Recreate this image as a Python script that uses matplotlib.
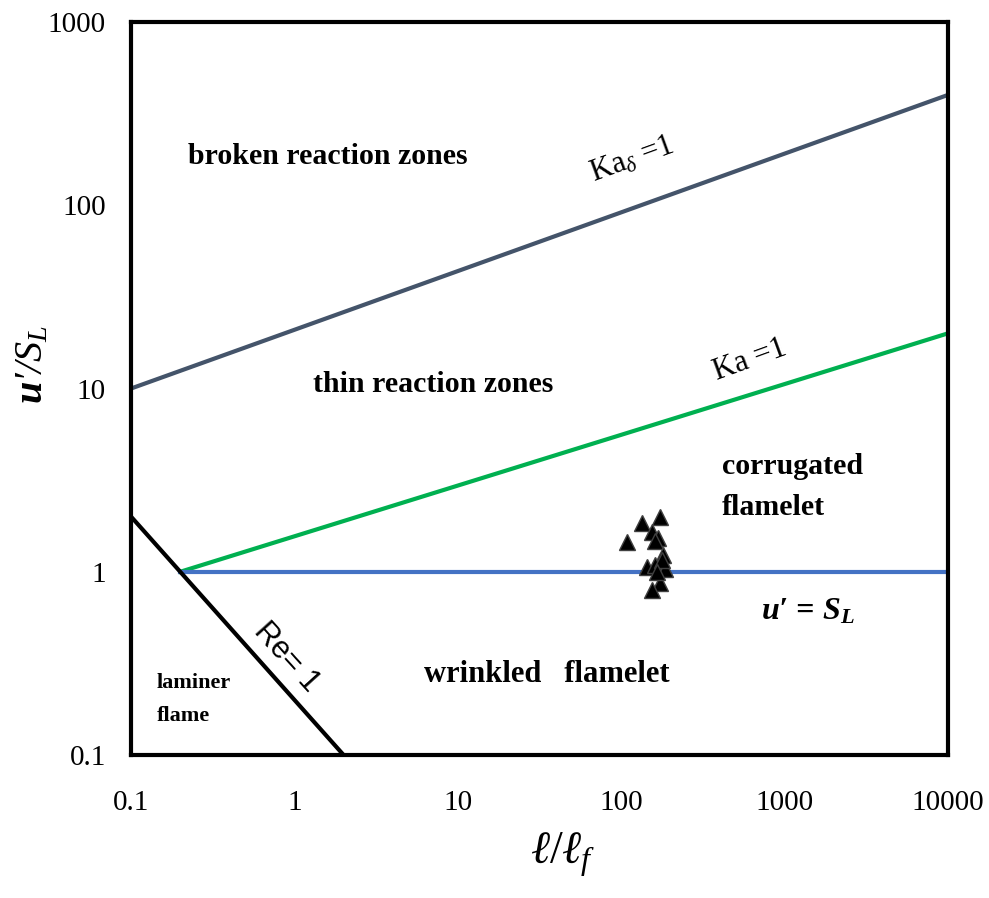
import matplotlib
matplotlib.use("Agg")
import matplotlib.pyplot as plt

plt.rcParams["font.family"] = ["Liberation Serif", "DejaVu Serif"]
plt.rcParams["mathtext.fontset"] = "custom"
plt.rcParams["mathtext.rm"] = "Liberation Serif"
plt.rcParams["mathtext.it"] = "Liberation Serif:italic"
plt.rcParams["mathtext.bf"] = "Liberation Serif:bold"
plt.rcParams["mathtext.bfit"] = "Liberation Serif:bold:italic"

# Regime boundaries (l/lf, u'/SL)
ka_delta_x = [0.1, 10000]
ka_delta_y = [10, 400]
ka_x = [0.2, 10000]
ka_y = [1, 20]
usl_x = [0.2, 10000]
usl_y = [1, 1]
re_x = [0.1, 2]
re_y = [2, 0.1]

# Measured points
pts_x = [173, 134, 108, 154, 168, 161, 180, 144, 161, 185, 178, 173, 154, 166]
pts_y = [2.0, 1.85, 1.46, 1.65, 1.53, 1.48, 1.24, 1.06, 1.09, 1.03, 1.16, 0.87, 0.80, 1.0]

xticks = [0.1, 1, 10, 100, 1000, 10000]
xtick_labels = ["0.1", "1", "10", "100", "1000", "10000"]
yticks = [0.1, 1, 10, 100, 1000]
ytick_labels = ["0.1", "1", "10", "100", "1000"]

fig = plt.figure(figsize=(9.89, 8.98), dpi=100)
ax = fig.add_axes([0.1325, 0.1592, 0.826, 0.8163])

ax.plot(ka_delta_x, ka_delta_y, color="#44546A", lw=3)
ax.plot(ka_x, ka_y, color="#00B050", lw=3)
ax.plot(usl_x, usl_y, color="#4472C4", lw=3)
ax.plot(re_x, re_y, color="black", lw=3)
ax.plot(pts_x, pts_y, ls="none", marker="^", ms=11, mfc="black", mec="#404040", mew=1)

ax.set_xscale("log")
ax.set_yscale("log")
ax.set_xlim(0.1, 10000)
ax.set_ylim(0.1, 1000)
ax.set_xticks(xticks)
ax.set_xticklabels(xtick_labels)
ax.set_yticks(yticks)
ax.set_yticklabels(ytick_labels)
ax.minorticks_off()
ax.tick_params(length=0, labelsize=21)
ax.tick_params(axis="x", pad=25)
ax.tick_params(axis="y", pad=18)
for s in ax.spines.values():
    s.set_linewidth(3)

fig.text(0.569, 0.048, r"$\ell/\ell_f$", fontsize=33, ha="center", va="center")
fig.text(0.033, 0.594, r"$\mathbfit{u}$" + "\u2032/" + r"$S_L$", fontsize=29, ha="center", va="center",
         rotation=90, fontstyle="italic")

bold = dict(fontsize=21.5, fontweight="bold")
ax.text(1.6, 184, "broken reaction zones", ha="center", va="center", **bold)
ax.text(7.1, 10.5, "thin reaction zones", ha="center", va="center", **bold)
ax.text(414, 2.9, "corrugated\nflamelet", ha="left", va="center", linespacing=1.7, **bold)
ax.text(35, 0.274, "wrinkled   flamelet", ha="center", va="center", fontsize=22, fontweight="bold")
ax.text(0.144, 0.2, "laminer\nflame", ha="left", va="center", fontsize=16, fontweight="bold", linespacing=1.85)
ax.text(1390, 0.605, r"$\mathbfit{u}$" + "\u2032 = " + r"$\mathbfit{S}_\mathbfit{L}$", ha="center", va="center",
        fontsize=23, fontweight="bold", fontstyle="italic")
ax.text(0.89, 0.344, "Re= 1", rotation=-48, ha="center", va="center", fontsize=22,
        family=["Liberation Sans", "DejaVu Sans"])
ax.text(116, 177, r"Ka$_\delta$ =1", rotation=20, ha="center", va="center", fontsize=22)
ax.text(614, 14.4, "Ka =1", rotation=20, ha="center", va="center", fontsize=22)

fig.savefig("out.png", dpi=100)
